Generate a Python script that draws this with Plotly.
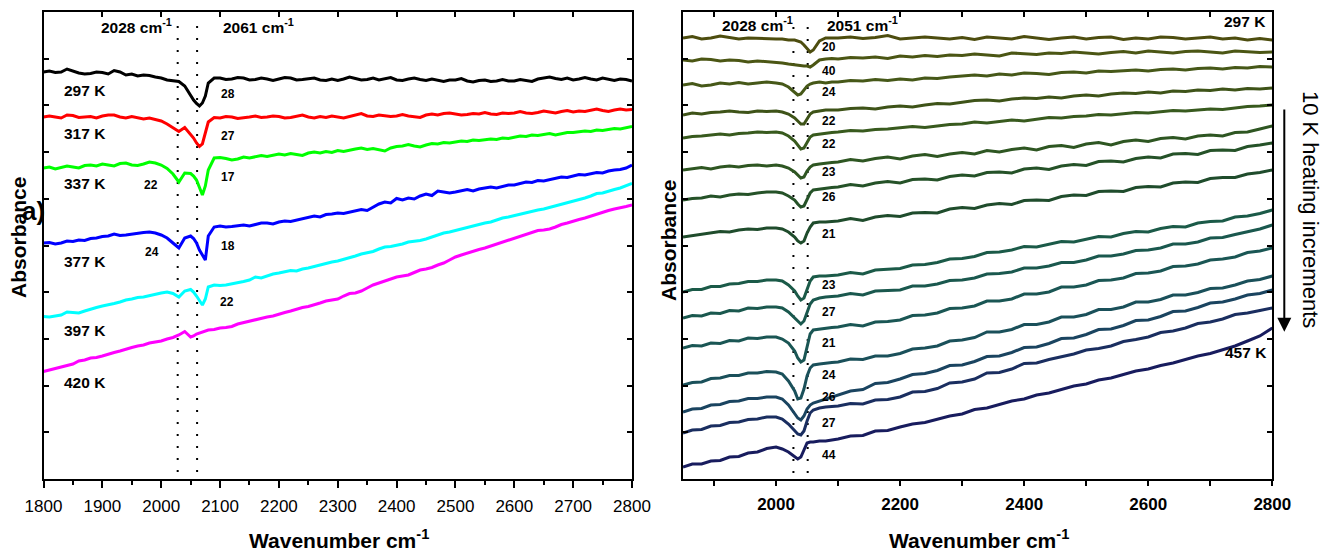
import plotly.graph_objects as go

W, H = 1322, 552

# ---------------- panel (a): six temperatures, 1800-2800 cm-1 ----------------
wn_a = (list(range(1800, 2000, 10))
        + [2000, 2010, 2020, 2030, 2040, 2050, 2055, 2060, 2065, 2070, 2075, 2080, 2090]
        + list(range(2100, 2801, 10)))

temps_a = ["297 K", "317 K", "337 K", "377 K", "397 K", "420 K"]
colors_a = ["#000000", "#ff0000", "#00ff00", "#0000ff", "#00ffff", "#ff00ff"]

abs_297 = [407, 408, 406.5, 407, 410, 408, 406, 405, 405.5, 407,
           406.5, 405, 408.5, 407, 404, 405, 403, 404, 403.5, 402,
           401, 399, 398.5, 397.5, 393, 383, 379, 375.5, 373, 376, 383, 396, 401,
           401, 399.5, 400, 401.5, 401, 399, 399.5, 401, 400, 398.5,
           400, 401.5, 401, 399, 399.5, 400, 401, 399, 398.5, 400,
           398.5, 400, 402, 400.5, 399, 399.5, 401, 399, 400, 401.5,
           399, 398.5, 400, 401, 399.5, 398.5, 400, 399, 397.5, 399,
           399, 400.5, 398, 397, 398.5, 399, 397.5, 398, 399.5, 398,
           398, 399.5, 398.5, 397.5, 400, 401, 402, 400.5, 399.5, 401,
           399, 400, 401.5, 400, 399, 401, 399.5, 398.5, 400, 399.5,
           398]
abs_317 = [362, 363, 362, 361, 364, 363.5, 361.5, 362, 362.5, 361,
           363, 364, 364, 362, 361, 362.5, 361.5, 360, 361, 359.5,
           358, 355, 351, 347.5, 351.5, 345, 341, 336, 332.5, 335, 346, 357, 361.5,
           361, 362.5, 362, 360.5, 361, 362, 363, 361.5, 362, 363,
           362.5, 361, 361.5, 363, 364, 362, 361, 362.5, 361.5, 363,
           362, 361, 362.5, 364, 365.5, 363, 362.5, 364, 363, 362.5,
           363, 364.5, 363, 362, 361.5, 364, 365, 364, 365.5, 366,
           365, 364, 364.5, 365.5, 365, 366.5, 365, 364.5, 366, 365.5,
           366, 367.5, 366, 365.5, 366.5, 368, 367, 366, 367.5, 368.5,
           367, 368, 367.5, 368.5, 370, 368.5, 367.5, 369, 370, 369,
           369.5]
abs_337 = [311, 312, 310, 311.5, 313, 312, 311, 313.5, 314, 313,
           315, 314, 313, 315.5, 316, 314, 313.5, 315, 317, 316,
           314, 310.5, 305, 297, 306, 305.5, 303, 299, 292, 284, 293, 309, 321,
           321.5, 320.5, 319, 320, 322, 321, 322.5, 323.5, 322.5, 324,
           325, 324, 325.5, 324.5, 323.5, 326, 327, 326, 327.5, 326.5,
           328.5, 327.5, 329, 330, 331, 329.5, 330.5, 329, 328, 331,
           332.5, 333, 334.5, 333, 332, 334, 335.5, 335, 336.5, 336,
           337, 338, 337.5, 339, 338.5, 339, 340, 339.5, 341, 340.5,
           342, 343, 342.5, 344, 343.5, 344.5, 345.5, 344, 345.5, 346.5,
           346.5, 347, 348, 347.5, 349, 348.5, 349.5, 350.5, 350, 351,
           352.5]
abs_377 = [236, 236.5, 235, 236, 238, 237.5, 239, 238.5, 240.5, 241,
           242.5, 243, 245, 243.5, 244, 245, 245.5, 246.5, 247, 246,
           244, 241, 236, 231, 241, 243, 240.5, 236, 229, 224, 219, 243, 252,
           253, 252, 252.5, 253.5, 254, 253, 254.5, 256, 256, 255,
           257, 258, 257.5, 259, 260, 261.5, 263, 262, 264.5, 265,
           266, 265.5, 267, 268, 269.5, 268.5, 272, 275, 277, 276,
           280.5, 279, 281, 280, 283, 285, 283.5, 288, 287, 286,
           287, 288.5, 289.5, 288, 290, 291, 292, 291, 292.5, 294,
           294, 295.5, 297, 296.5, 298.5, 298, 299.5, 301, 302, 301.5,
           303, 304.5, 304, 305.5, 306.5, 306, 308, 309, 309.5, 311,
           314]
abs_397 = [162.5, 162, 163, 164, 167, 166.5, 166, 168, 170, 171.5,
           173, 174, 175.5, 177, 179, 180, 181.5, 182, 183.5, 185,
           186, 187, 185.5, 182, 188, 189.5, 187, 183, 178, 174, 180, 192, 194,
           193.5, 194, 195, 196.5, 197.5, 199, 202, 201, 203, 205,
           206, 207, 208.5, 208, 210, 211, 212.5, 214, 216, 217,
           218, 219.5, 221, 223, 225, 226, 227.5, 230, 232, 232.5,
           233.5, 235, 237, 237.5, 238.5, 240, 242, 244, 246, 247,
           248.5, 250, 252, 253, 254.5, 256, 257, 259, 261, 262,
           263.5, 265, 266, 267.5, 269, 270, 271.5, 273, 275, 276,
           277.5, 279, 281, 283, 285.5, 286, 288, 289.5, 291, 293,
           295.5]
abs_420 = [107.5, 109, 110, 111.5, 113, 115, 118, 119, 121, 121.5,
           123, 125, 126.5, 128, 130, 131.5, 133, 134, 136, 137,
           138, 140, 141.5, 144, 147.5, 142, 143, 145, 146, 146.5, 148, 149, 149.5,
           151, 151.5, 152.5, 155, 156.5, 157.5, 159, 161, 162, 163,
           165, 166.5, 168, 170, 171.5, 172.5, 174, 176, 178, 179,
           180, 183, 185.5, 186, 188, 191, 194, 196, 198, 199.5,
           202, 203, 204, 206.5, 209, 210, 211.5, 214, 216, 219,
           222, 224, 226, 227.5, 229.5, 231, 233, 235, 237, 239,
           240.5, 243, 245, 246.5, 248.5, 249, 250, 252, 254.5, 256,
           258, 259.5, 261, 263, 265, 266.5, 268.5, 270, 271, 272.5,
           274]
series_a = [abs_297, abs_317, abs_337, abs_377, abs_397, abs_420]

peaks_a = [2028, 2061]
# band widths written beside the features: (text, wavenumber, absorbance)
widths_a = [("28", 2114, 385), ("27", 2114, 343), ("17", 2114, 302), ("22", 1983, 294),
            ("18", 2113, 233), ("24", 1984, 227), ("22", 2112, 177)]

# ---------------- panel (b): 10 K heating steps, 1850-2800 cm-1 ----------------
wn_b = (list(range(1850, 2000, 15))
        + [2000, 2010, 2020, 2030, 2035, 2040, 2045, 2050, 2055, 2060, 2070, 2080, 2090]
        + list(range(2100, 2801, 20)))

abs_b = [
    [441, 442.5, 440, 441, 443, 441.5, 440, 441, 440.5, 440,
     440, 440, 439, 439, 438, 437, 434, 430, 427, 429, 438, 441, 441,
     441, 442, 440.5, 441.5, 443.5, 440, 441, 442, 441, 440,
     441.5, 439.5, 442, 441, 440, 442.5, 441, 439.5, 441, 442,
     440, 441.5, 442, 439.5, 441, 440, 442, 441.5, 440, 441,
     442, 440, 441, 439, 440.5, 439],
    [419, 418, 420, 419.5, 418, 419, 418.5, 417, 418, 417.5,
     417, 416, 415, 414, 414, 413, 413, 413, 412, 414, 419, 420, 420.5,
     420, 421.5, 421, 422, 420.5, 423, 422, 423.5, 422.5, 424,
     423.5, 425, 424, 423, 426, 425, 424.5, 426, 425.5, 427,
     426, 425, 426.5, 427.5, 426, 428, 427, 426, 427.5, 428,
     427, 426, 428, 427.5, 426.5, 427],
    [394, 395.5, 393, 394, 396, 395, 396.5, 395, 396, 397,
     396, 395, 392, 387, 384, 385, 389, 393, 395, 396, 397, 396, 397,
     397, 398.5, 398, 399.5, 398.5, 400, 399, 401, 400.5, 402,
     403, 404, 403, 405, 404, 406, 405.5, 404.5, 406.5, 407,
     406, 408, 407.5, 408.5, 409, 408, 409.5, 410, 409, 410.5,
     411, 410, 411.5, 411, 412.5, 412],
    [364, 366, 365, 366.5, 367, 368, 367, 366.5, 368, 367.5,
     368, 367, 365, 361, 358, 355, 355, 360, 365, 367, 368, 369, 369,
     369, 370.5, 371, 370, 372, 373, 372, 374, 375.5, 375,
     377, 378.5, 379, 378, 380, 381, 380.5, 382, 381, 383,
     384, 383, 385, 386, 385.5, 387, 386, 388, 387.5, 389,
     388.5, 390, 389, 390.5, 390, 391],
    [341, 342.5, 343, 344, 345, 344, 345.5, 346, 347, 346.5,
     347, 346, 343, 338, 334, 330, 331, 337, 342, 344, 345, 346, 346.5,
     347, 348.5, 348, 349.5, 350, 351, 352.5, 351.5, 353, 354.5,
     355, 357, 356, 357.5, 359, 358, 360, 361.5, 361, 362.5,
     363, 364.5, 364, 365, 366.5, 366, 367, 368.5, 368, 369,
     370, 369.5, 371, 372.5, 373, 374],
    [309, 310, 311.5, 310, 312, 313, 312, 313.5, 314, 313,
     314, 313, 311, 307, 304, 301, 302, 308, 312, 314, 315, 316, 316.5,
     317, 319.5, 318, 320.5, 322, 320, 323, 324.5, 322.5, 325,
     326.5, 325, 328.5, 327, 329.5, 331, 329, 332.5, 333.5, 331.5,
     335, 336.5, 334, 337.5, 339, 337.5, 340.5, 341.5, 340, 343,
     344, 343, 346.5, 347, 350, 353],
    [279, 280.5, 281, 283, 282, 284, 285, 284.5, 286, 287,
     287, 286, 283, 279, 275, 272, 273, 280, 286, 289, 290, 291, 291.5,
     292, 294.5, 293, 296, 297.5, 296, 299.5, 300, 299, 302.5,
     304, 303, 306.5, 307, 306, 310, 311, 309.5, 313, 314.5,
     313.5, 317.5, 318, 317, 320.5, 322, 321, 325, 325.5, 324.5,
     328.5, 329, 328.5, 332.5, 334, 336],
    [242, 243.5, 245, 246, 247.5, 247, 249, 250, 249.5, 251,
     251, 250, 247, 242, 238, 236, 238, 246, 252, 256, 257, 257, 257.5,
     258, 260.5, 258.5, 262, 263.5, 262.5, 266, 266.5, 266, 270,
     271.5, 270.5, 274, 275.5, 274.5, 278.5, 279, 278.5, 282.5, 284,
     283.5, 287.5, 288, 287.5, 291.5, 292.5, 292, 296, 297, 296.5,
     300.5, 301.5, 301.5, 305, 306.5, 309],
    [187, 189.5, 189.5, 192.5, 192.5, 195, 195.5, 197.5, 197.5, 199,
     199, 198, 194, 188, 183, 179, 181, 190, 198, 202, 203, 203, 203.5,
     204, 206.5, 205, 209, 209.5, 210.5, 214, 214.5, 216.5, 220,
     220.5, 222.5, 226.5, 227, 229, 232.5, 232, 234.5, 237.5, 237,
     239.5, 242.5, 242, 245.5, 247.5, 247, 250.5, 252.5, 252, 256,
     257.5, 258, 262, 263, 265.5, 269],
    [161, 163.5, 163, 166, 165.5, 168.5, 168, 171, 170.5, 172,
     172, 171, 167, 161, 157, 155, 158, 167, 175, 179, 181, 182, 182.5,
     183, 185.5, 184, 188, 188.5, 189, 193, 193, 195, 198.5,
     199, 201, 205, 205.5, 207, 211, 211, 213, 216.5, 216.5,
     219, 223, 223, 225, 228.5, 229, 231, 235, 235, 237,
     241, 241.5, 244.5, 247.5, 250, 254],
    [131, 133.5, 133, 136, 135.5, 138.5, 138, 141, 140.5, 142,
     142, 140, 136, 128, 121, 117, 119, 133, 145, 149, 150, 151, 151.5,
     152, 154.5, 153, 157, 157.5, 159, 163.5, 164, 166, 170.5,
     171, 173, 178, 178, 180, 185, 185, 187, 192, 192,
     194, 198.5, 199, 201, 205.5, 206, 208, 212.5, 213, 215,
     219, 220, 222, 226.5, 228, 231],
    [94, 96.5, 97, 100.5, 101, 103.5, 103.5, 106, 106, 107.5,
     107, 105, 98, 88, 80, 81, 90, 103, 111, 114, 115, 116, 116.5,
     117, 120, 119.5, 123, 123, 125.5, 130, 131, 133, 138,
     139, 141.5, 147, 147, 149.5, 154.5, 154.5, 157, 162, 162,
     164.5, 169.5, 169.5, 172, 177, 177, 179.5, 184, 184, 186.5,
     190.5, 191, 194, 198, 199.5, 203],
    [67, 70, 70.5, 74, 74.5, 77.5, 78, 80.5, 80.5, 82,
     82, 80, 74, 66, 61, 59, 63, 70, 74, 76, 78, 80, 82,
     84, 88, 89.5, 95.5, 96.5, 100, 104.5, 105.5, 108.5, 113.5,
     114, 117.5, 122.5, 123, 126.5, 131.5, 132, 135.5, 140.5, 141,
     144.5, 149.5, 150, 153.5, 158.5, 159, 162.5, 167.5, 168, 171.5,
     176, 177, 180, 184, 185.5, 189],
    [46, 49, 49.5, 53, 53.5, 56.5, 57, 59.5, 60, 62,
     62, 60, 55, 49, 45, 44, 48, 58, 66, 69, 71, 72, 72.5,
     73, 75.5, 75, 79, 79.5, 82, 87, 87.5, 90.5, 96,
     97, 100, 106, 106.5, 110, 115.5, 116, 119.5, 122, 125,
     129, 130.5, 133, 137.5, 139.5, 142, 146.5, 148, 151, 155.5,
     157, 160, 164.5, 166, 168.5, 171],
    [12, 15, 15, 18, 18.5, 22, 22.5, 26, 27, 30.5,
     32, 30, 27, 22, 20, 22, 30, 36, 37, 37, 38, 38, 39,
     40, 43, 43.5, 48, 48.5, 52, 55, 56.5, 60, 63,
     65, 69.5, 71, 74.5, 78, 80, 84, 86, 89.5, 93,
     95, 99, 101, 104.5, 108, 110, 113.5, 116, 119.5, 123,
     125.5, 129.5, 133, 138, 143, 151],
]
colors_b = ["#4d4d0f", "#4b5614", "#465818", "#3e5318", "#385a1e", "#2e5622", "#255228", "#1f4c2c",
            "#1b5a48", "#1a584e", "#1a5654", "#1a505a", "#1a4460", "#1a2e60", "#181c5e"]
widths_b = ["20", "40", "24", "22", "22", "23", "26", "21", "23", "27", "21", "24", "26", "27", "44"]
peaks_b = [2028, 2051]

FONT = "Arial, Liberation Sans, sans-serif"
BLACK = "#000000"


def paper(px, py):
    return px / W, 1 - py / H


fig = go.Figure()

for name, ys, col in zip(temps_a, series_a, colors_a):
    fig.add_trace(go.Scatter(x=wn_a, y=ys, mode="lines", name=name,
                             line=dict(color=col, width=3), xaxis="x", yaxis="y"))

for ys, col in zip(abs_b, colors_b):
    fig.add_trace(go.Scatter(x=wn_b, y=ys, mode="lines",
                             line=dict(color=col, width=3), xaxis="x2", yaxis="y2"))

# empty traces so the inward top tick rows get their own overlay axes
fig.add_trace(go.Scatter(x=[], y=[], xaxis="x3", yaxis="y", showlegend=False))
fig.add_trace(go.Scatter(x=[], y=[], xaxis="x4", yaxis="y2", showlegend=False))

dom_a = [43.5 / W, 632 / W]
dom_b = [683 / W, 1272.3 / W]
dom_y = [(H - 479) / H, (H - 12) / H]
Y_RANGE = [0, 467]
Y_STEP = 46.7

common_x = dict(showgrid=False, zeroline=False, showline=True, linecolor=BLACK, linewidth=2,
                mirror=True, ticks="outside", tickcolor=BLACK, tickwidth=1.5, automargin=False)
common_y = dict(showgrid=False, zeroline=False, showline=True, linecolor=BLACK, linewidth=2,
                mirror="ticks", ticks="inside", tickcolor=BLACK, tickwidth=1.5, ticklen=5,
                tick0=0, dtick=Y_STEP, showticklabels=False, range=Y_RANGE, automargin=False)
top_x = dict(showgrid=False, zeroline=False, showline=False, ticks="inside", tickcolor=BLACK,
             tickwidth=1.5, ticklen=5, showticklabels=False, side="top", automargin=False)

fig.update_layout(
    width=W, height=H, margin=dict(l=0, r=0, t=0, b=0, autoexpand=False),
    paper_bgcolor="white", plot_bgcolor="white", showlegend=False,
    font=dict(family=FONT, color=BLACK),
    xaxis=dict(domain=dom_a, range=[1800, 2800], tick0=1800, dtick=100, ticklen=7,
               minor=dict(dtick=50, ticks="outside", ticklen=4, tickcolor=BLACK, tickwidth=1.5),
               tickfont=dict(size=17, family=FONT), ticklabelstandoff=4, anchor="y", **common_x),
    yaxis=dict(domain=dom_y, anchor="x", **common_y),
    xaxis2=dict(domain=dom_b, range=[1850, 2800], tick0=2000, dtick=200, ticklen=5,
                minor=dict(dtick=100, ticks="outside", ticklen=5, tickcolor=BLACK, tickwidth=1.5),
                tickfont=dict(size=17, family=FONT, weight="bold"), ticklabelstandoff=4,
                anchor="y2", **common_x),
    yaxis2=dict(domain=dom_y, anchor="x2", **common_y),
    xaxis3=dict(overlaying="x", anchor="y", range=[1800, 2800], tick0=1800, dtick=100, **top_x),
    xaxis4=dict(overlaying="x2", anchor="y2", range=[1850, 2800], tick0=1900, dtick=100, **top_x),
)

# dotted guide lines at the band positions
shapes = []
for xv in peaks_a:
    shapes.append(dict(type="line", xref="x", yref="y domain", x0=xv, x1=xv, y0=0.015, y1=0.983,
                       line=dict(color=BLACK, width=2, dash="2px,10px"), layer="below"))
for xv in peaks_b:
    shapes.append(dict(type="line", xref="x2", yref="y2 domain", x0=xv, x1=xv, y0=0.013, y1=0.978,
                       line=dict(color=BLACK, width=2, dash="2px,10px"), layer="below"))
fig.update_layout(shapes=shapes)

ann = []


def txt(text, px, py, size, bold=True, xanchor="left", yanchor="middle", angle=0):
    x, y = paper(px, py)
    ann.append(dict(text=f"<b>{text}</b>" if bold else text, x=x, y=y, xref="paper", yref="paper",
                    xanchor=xanchor, yanchor=yanchor, showarrow=False, textangle=angle,
                    font=dict(family=FONT, size=size, color=BLACK)))


# panel (a) labels
for t, py in zip(temps_a, [90, 134, 183, 261, 330, 382]):
    txt(t, 62, py, 15.5)
for t, xv, yv in widths_a:
    ann.append(dict(text=f"<b>{t}</b>", x=xv, y=yv, xref="x", yref="y", showarrow=False,
                    xanchor="center", yanchor="middle", font=dict(family=FONT, size=12, color=BLACK)))
txt(f"{peaks_a[0]} cm<sup>-1</sup>", 99, 26, 15.5)
txt(f"{peaks_a[1]} cm<sup>-1</sup>", 221, 26, 15.5)
txt("a)", 47, 211, 26, xanchor="right")
txt("Absorbance", 18, 238, 21, xanchor="center", angle=-90)
txt("Wavenumber cm<sup>-1</sup>", 339, 539, 21, xanchor="center")

# panel (b) labels
for t, py in zip(widths_b, [47.3, 71, 91.7, 121, 144, 172.3, 196.7, 233.7,
                            285, 311.7, 343.3, 375, 396.7, 422.7, 455]):
    txt(t, 829, py, 12, xanchor="center")
txt(f"{peaks_b[0]} cm<sup>-1</sup>", 720, 24, 15.5)
txt(f"{peaks_b[1]} cm<sup>-1</sup>", 825, 24, 15.5)
txt("297 K", 1268, 21.7, 15.5, xanchor="right")
txt("457 K", 1269, 352.7, 15.5, xanchor="right")
txt("Absorbance", 668, 241, 21, xanchor="center", angle=-90)
txt("Wavenumber cm<sup>-1</sup>", 979, 539, 21, xanchor="center")
txt("10 K heating increments", 1311, 209, 22, bold=False, xanchor="center", angle=90)

# downward arrow beside the heating note
ax_, ay_ = paper(1284.3, 331.7)
ann.append(dict(text="", x=ax_, y=ay_, xref="paper", yref="paper", showarrow=True,
                ax=0, ay=-(331.7 - 108), arrowhead=2, arrowsize=1.4, arrowwidth=2,
                arrowcolor=BLACK))

fig.update_layout(annotations=ann)
fig.write_html("out.html")
